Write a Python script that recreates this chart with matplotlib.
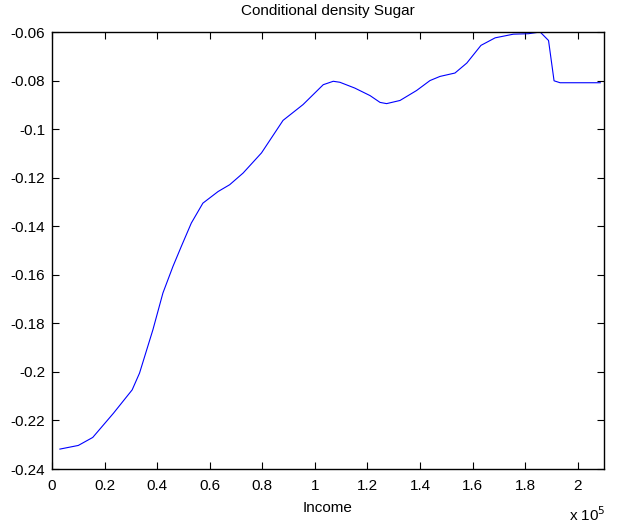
import matplotlib
matplotlib.use('Agg')
import matplotlib.pyplot as plt
from matplotlib.ticker import FuncFormatter, MultipleLocator

plt.rcParams['font.family'] = ['Liberation Sans', 'DejaVu Sans']
plt.rcParams['font.size'] = 11

# income in units of 1e5, conditional density values
income = [0.03, 0.10, 0.155, 0.234, 0.305, 0.333, 0.384, 0.422, 0.460, 0.492,
          0.530, 0.574, 0.632, 0.676, 0.727, 0.797, 0.879, 0.955, 1.032, 1.070,
          1.095, 1.152, 1.21, 1.248, 1.273, 1.324, 1.387, 1.438, 1.476, 1.533,
          1.578, 1.632, 1.686, 1.755, 1.813, 1.857, 1.889, 1.910, 1.933, 2.086]
density = [-0.2318, -0.2303, -0.2270, -0.2170, -0.2074, -0.2005, -0.1826, -0.1675, -0.1566, -0.1483,
           -0.1387, -0.1305, -0.1257, -0.1229, -0.1181, -0.1098, -0.0964, -0.0899, -0.0817, -0.0803,
           -0.0807, -0.0831, -0.0862, -0.0890, -0.0895, -0.0882, -0.0841, -0.0800, -0.0783, -0.0769,
           -0.0728, -0.0655, -0.0624, -0.0609, -0.0607, -0.0600, -0.0635, -0.0801, -0.0809, -0.0809]

scale = 1e5
x = [v * scale for v in income]

fig = plt.figure(figsize=(6.21, 5.29), dpi=100)
ax = fig.add_axes([52 / 621, 1 - 469 / 529, 552 / 621, 437 / 529])

ax.plot(x, density, color='#0000ff', linewidth=0.8)

ax.set_xlim(0, 2.1 * scale)
ax.set_ylim(-0.24, -0.06)
ax.xaxis.set_major_locator(MultipleLocator(0.2 * scale))
ax.yaxis.set_major_locator(MultipleLocator(0.02))
ax.xaxis.set_major_formatter(FuncFormatter(lambda v, p: '%g' % round(v / scale, 4)))
ax.yaxis.set_major_formatter(FuncFormatter(lambda v, p: '%g' % round(v, 4)))

ax.tick_params(direction='in', top=True, right=True, length=5, width=0.8, labelsize=11)
ax.tick_params(axis='x', pad=7)
ax.tick_params(axis='y', pad=5)
for s in ax.spines.values():
    s.set_linewidth(1.0)

ax.set_title('Conditional density Sugar', fontsize=11, pad=12)
ax.set_xlabel('Income', fontsize=11, labelpad=6)
fig.text(606 / 621, 1 - 521 / 529, r'x 10$^{5}$', ha='right', va='baseline', fontsize=11)

fig.savefig('out.png', dpi=100)
